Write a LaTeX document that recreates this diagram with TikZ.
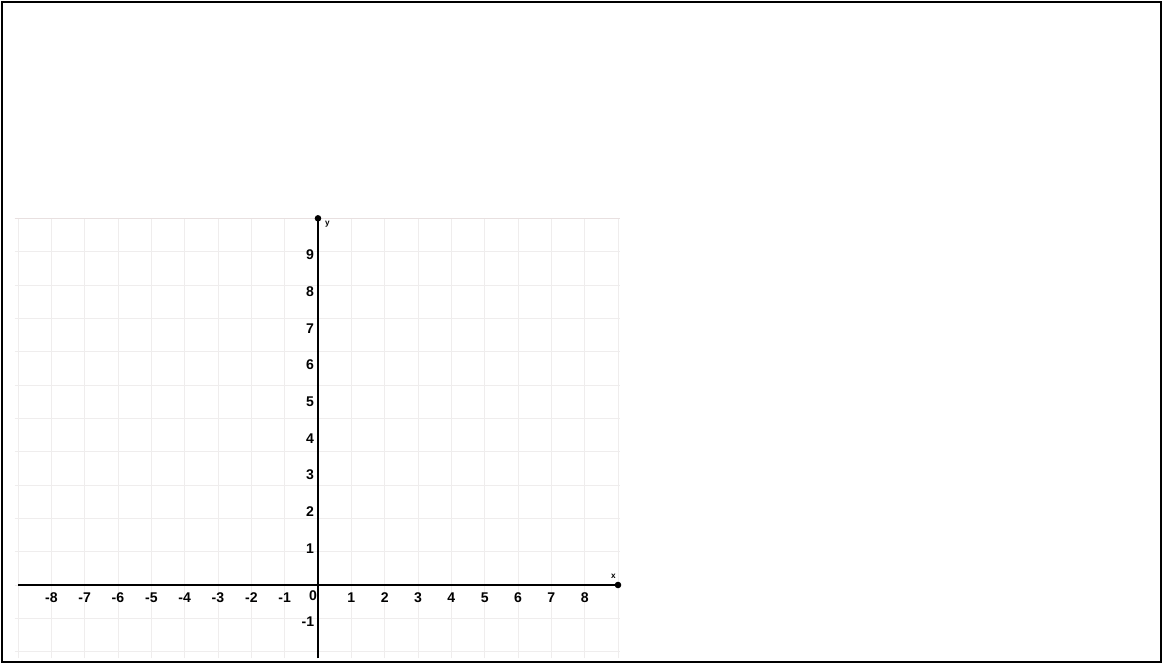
\documentclass[tikz,border=0pt]{standalone}
\usepackage{fontspec}
\setmainfont{Liberation Sans}
\usetikzlibrary{positioning}
\begin{document}
\begin{tikzpicture}[x=1cm,y=1.1cm,
every node/.style={font=\bfseries\fontsize{12}{14}\selectfont,inner sep=1pt,text height=1.6ex,text depth=0pt},
gridline/.style={draw=red!10!black!7,line width=.4pt},
axisline/.style={line width=2.1pt}]
\useasboundingbox (-9.54cm,-2.4cm) rectangle (25.35cm,17.55cm);
% frame
\draw[line width=2pt] (-9.48cm,-2.31cm) rectangle (25.29cm,17.49cm);
% grid
\draw[gridline] (-9.1,-2) grid (9.05,10);
\draw[draw=red!25!black!12,line width=.5pt] (-9.1,10)--(9.05,10);
% axes
\coordinate (O) at (0,0);
\coordinate (xl) at (-9,0);
\coordinate (xr) at (9,0);
\coordinate (yb) at (0,-2);
\coordinate (yt) at (0,10);
\draw[axisline] (xl)--(xr);
\draw[axisline] (yb)--(yt);
\fill (xr) circle (2.8pt);
\fill (yt) circle (2.8pt);
\node[font=\bfseries\fontsize{7}{8}\selectfont,inner sep=0pt,text height=,text depth=] (xlab) at ([xshift=-4pt,yshift=7pt]xr) {x};
\node[font=\bfseries\fontsize{7}{8}\selectfont,inner sep=0pt,text height=,text depth=] (ylab) at ([xshift=8pt,yshift=-5pt]yt) {y};
% labels
\node (n0) at (-.15,-.3) {0};
\foreach \i in {1,...,8} {
  \node (xp\i) at (\i,-.33) {\i};
  \node (xm\i) at (-\i,-.33) {-\i};
}
\foreach \i in {1,...,9}
  \node (yp\i) at (-.24,\i) {\i};
\node (ym1) at (-.3,-1) {-1};
\end{tikzpicture}
\end{document}
